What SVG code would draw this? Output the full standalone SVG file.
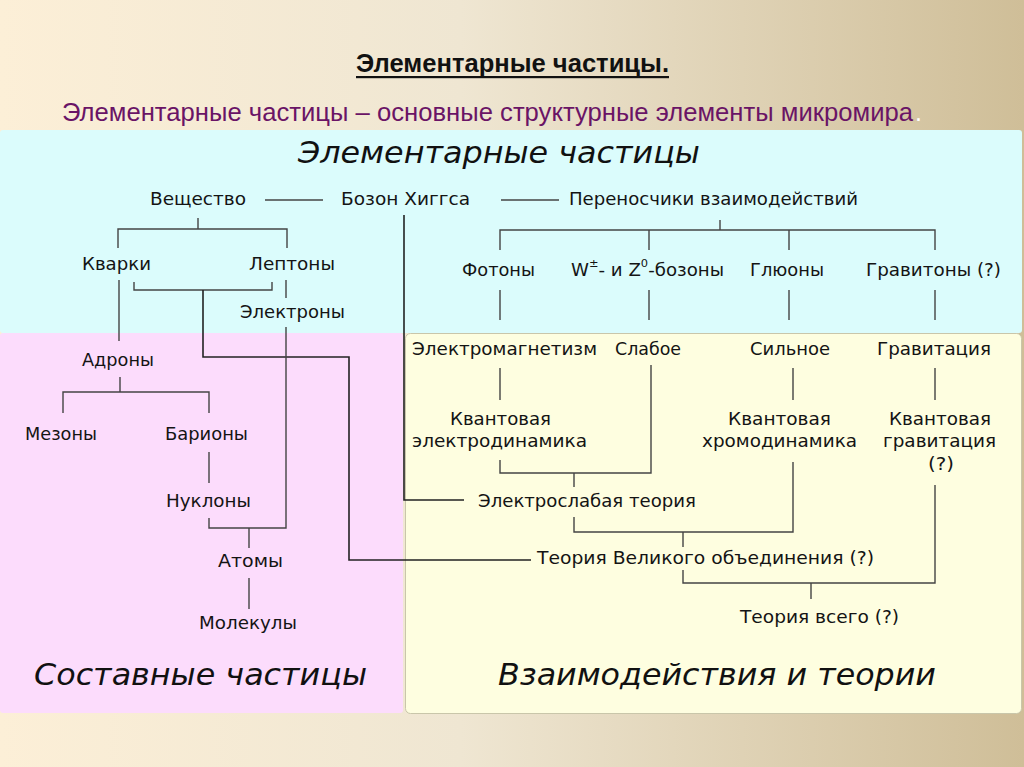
<svg xmlns="http://www.w3.org/2000/svg" width="1024" height="767" viewBox="0 0 1024 767">
<defs>
<linearGradient id="bg" x1="0" y1="0" x2="1" y2="0">
<stop offset="0" stop-color="#fcefd7"/>
<stop offset="0.45" stop-color="#efe6d2"/>
<stop offset="1" stop-color="#cfbe98"/>
</linearGradient>
</defs>
<style>
.n{font-family:"DejaVu Sans",sans-serif;font-size:17.5px;fill:#141414}
.h{font-family:"DejaVu Sans",sans-serif;font-style:italic;font-size:31px;fill:#111}
.c{fill:none;stroke:#444;stroke-width:1.4}
.k{fill:none;stroke:#222;stroke-width:1.6}
</style>
<rect x="0" y="0" width="1024" height="767" fill="url(#bg)"/>
<text x="356" y="72" font-family="Liberation Sans, Arial, sans-serif" font-weight="bold" font-size="25" fill="#111" textLength="313" lengthAdjust="spacingAndGlyphs">Элементарные частицы.</text>
<rect x="356" y="76" width="313" height="2.2" fill="#111"/>
<text x="62" y="121" font-family="Liberation Sans, Arial, sans-serif" font-size="25" fill="#6a1466" textLength="851" lengthAdjust="spacingAndGlyphs">Элементарные частицы – основные структурные элементы микромира</text>
<text x="915" y="121" font-family="Liberation Sans, Arial, sans-serif" font-size="25" fill="#fff">.</text>
<g id="panels">
<rect x="0" y="130" width="1022" height="203" rx="3" fill="#dbfcfc"/>
<rect x="0" y="333" width="403" height="380" rx="3" fill="#fcdcfc"/>
<rect x="405.5" y="333.5" width="616" height="380" rx="5" fill="#fefee0" stroke="#c9c6aa" stroke-width="1"/>
</g>
<text class="h" x="298" y="163" textLength="402" lengthAdjust="spacingAndGlyphs">Элементарные частицы</text>
<text class="h" x="34" y="685" textLength="333" lengthAdjust="spacingAndGlyphs">Составные частицы</text>
<text class="h" x="498" y="685" textLength="438" lengthAdjust="spacingAndGlyphs">Взаимодействия и теории</text>
<g id="connectors">
<path class="c" d="M265 200H323"/>
<path class="c" d="M501 200H559"/>
<path class="c" d="M198 218V229M118 248V229H287V248"/>
<path class="c" d="M720 220V230M500 250V230H935V250M649 230V250M789 230V250"/>
<path class="c" d="M500 290V320M649 290V320M789 290V320M935 290V320"/>
<path class="c" d="M119 280V341"/>
<path class="c" d="M134 282V290H272V282"/>
<path class="k" d="M203 290V357H349V560H531"/>
<path class="c" d="M286 280V298M286 327V528H209V518"/>
<path class="c" d="M249 528V548"/>
<path class="c" d="M120 377V392M63 413V392H209V413"/>
<path class="c" d="M209 452V483"/>
<path class="c" d="M249 578V609"/>
<path class="k" d="M404 215V500H464"/>
<path class="c" d="M500 368V400M793 368V400M935 368V400"/>
<path class="c" d="M651 365V473H500V460M574 473V487"/>
<path class="c" d="M574 517V532H793V462M683 532V547"/>
<path class="c" d="M935 485V583H683V570M811 583V599"/>
</g>
<g id="n-veshestvo"><text class="n" x="150" y="205" textLength="96" lengthAdjust="spacingAndGlyphs">Вещество</text></g>
<g id="n-higgs"><text class="n" x="341" y="205" textLength="129" lengthAdjust="spacingAndGlyphs">Бозон Хиггса</text></g>
<g id="n-carriers"><text class="n" x="569" y="205" textLength="289" lengthAdjust="spacingAndGlyphs">Переносчики взаимодействий</text></g>
<g id="n-quarks"><text class="n" x="82" y="270" textLength="69" lengthAdjust="spacingAndGlyphs">Кварки</text></g>
<g id="n-leptons"><text class="n" x="249" y="270" textLength="86" lengthAdjust="spacingAndGlyphs">Лептоны</text></g>
<g id="n-electrons"><text class="n" x="240" y="318" textLength="105" lengthAdjust="spacingAndGlyphs">Электроны</text></g>
<g id="n-photons"><text class="n" x="462" y="276" textLength="73" lengthAdjust="spacingAndGlyphs">Фотоны</text></g>
<g id="n-wz"><text class="n" x="571" y="276" textLength="153" lengthAdjust="spacingAndGlyphs">W<tspan font-size="11" dy="-9">±</tspan><tspan dy="9">- и Z</tspan><tspan font-size="11" dy="-9">0</tspan><tspan dy="9">-бозоны</tspan></text></g>
<g id="n-gluons"><text class="n" x="750" y="276" textLength="74" lengthAdjust="spacingAndGlyphs">Глюоны</text></g>
<g id="n-gravitons"><text class="n" x="866" y="276" textLength="135" lengthAdjust="spacingAndGlyphs">Гравитоны (?)</text></g>
<g id="n-hadrons"><text class="n" x="82" y="366" textLength="72" lengthAdjust="spacingAndGlyphs">Адроны</text></g>
<g id="n-mesons"><text class="n" x="25" y="440" textLength="72" lengthAdjust="spacingAndGlyphs">Мезоны</text></g>
<g id="n-baryons"><text class="n" x="165" y="440" textLength="83" lengthAdjust="spacingAndGlyphs">Барионы</text></g>
<g id="n-nucleons"><text class="n" x="166" y="507" textLength="85" lengthAdjust="spacingAndGlyphs">Нуклоны</text></g>
<g id="n-atoms"><text class="n" x="218" y="567" textLength="65" lengthAdjust="spacingAndGlyphs">Атомы</text></g>
<g id="n-molecules"><text class="n" x="199" y="629" textLength="98" lengthAdjust="spacingAndGlyphs">Молекулы</text></g>
<g id="n-em"><text class="n" x="412" y="355" textLength="185" lengthAdjust="spacingAndGlyphs">Электромагнетизм</text></g>
<g id="n-weak"><text class="n" x="615" y="355" textLength="66" lengthAdjust="spacingAndGlyphs">Слабое</text></g>
<g id="n-strong"><text class="n" x="750" y="355" textLength="80" lengthAdjust="spacingAndGlyphs">Сильное</text></g>
<g id="n-gravity"><text class="n" x="877" y="355" textLength="114" lengthAdjust="spacingAndGlyphs">Гравитация</text></g>
<g id="n-qed"><text class="n" x="450" y="425" textLength="101" lengthAdjust="spacingAndGlyphs">Квантовая</text><text class="n" x="412" y="447" textLength="175" lengthAdjust="spacingAndGlyphs">электродинамика</text></g>
<g id="n-qcd"><text class="n" x="728" y="425" textLength="103" lengthAdjust="spacingAndGlyphs">Квантовая</text><text class="n" x="702" y="447" textLength="155" lengthAdjust="spacingAndGlyphs">хромодинамика</text></g>
<g id="n-qg"><text class="n" x="889" y="425" textLength="102" lengthAdjust="spacingAndGlyphs">Квантовая</text><text class="n" x="883" y="447" textLength="113" lengthAdjust="spacingAndGlyphs">гравитация</text><text class="n" x="928" y="470" textLength="26" lengthAdjust="spacingAndGlyphs">(?)</text></g>
<g id="n-electroweak"><text class="n" x="478" y="507" textLength="218" lengthAdjust="spacingAndGlyphs">Электрослабая теория</text></g>
<g id="n-gut"><text class="n" x="537" y="564" textLength="337" lengthAdjust="spacingAndGlyphs">Теория Великого объединения (?)</text></g>
<g id="n-toe"><text class="n" x="740" y="623" textLength="159" lengthAdjust="spacingAndGlyphs">Теория всего (?)</text></g>
</svg>
